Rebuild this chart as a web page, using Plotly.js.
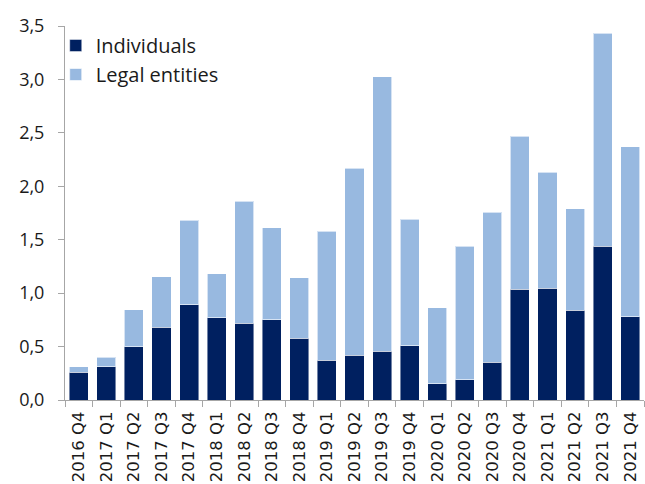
<!DOCTYPE html>
<html>
<head>
<meta charset="utf-8">
<script src="https://cdn.plot.ly/plotly-3.0.1.min.js"></script>
<style>html,body{margin:0;padding:0;background:#fff;}#chart{width:645px;height:484px;}</style>
</head>
<body>
<div id="chart"></div>
<script>
const quarters = ["2016 Q4","2017 Q1","2017 Q2","2017 Q3","2017 Q4","2018 Q1","2018 Q2","2018 Q3","2018 Q4","2019 Q1","2019 Q2","2019 Q3","2019 Q4","2020 Q1","2020 Q2","2020 Q3","2020 Q4","2021 Q1","2021 Q2","2021 Q3","2021 Q4"];
const individuals = [0.26,0.31,0.50,0.68,0.89,0.77,0.72,0.75,0.58,0.37,0.42,0.455,0.51,0.15,0.19,0.355,1.035,1.045,0.84,1.44,0.78];
const legalEntities = [0.05,0.09,0.345,0.475,0.79,0.41,1.14,0.86,0.565,1.21,1.75,2.57,1.18,0.714,1.25,1.40,1.435,1.085,0.95,1.99,1.59];

const traces = [
  {type:'bar', name:'Individuals', x:quarters, y:individuals,
   marker:{color:'#002060', line:{color:'rgba(255,255,255,0.45)', width:1}}},
  {type:'bar', name:'Legal entities', x:quarters, y:legalEntities,
   marker:{color:'#98B9E0', line:{color:'rgba(255,255,255,0.6)', width:1}}}
];

const layout = {
  width:645, height:484,
  margin:{l:65, r:1, t:26, b:84},
  barmode:'stack', bargap:0.31,
  separators:', ',
  paper_bgcolor:'#fff', plot_bgcolor:'#fff',
  showlegend:true,
  legend:{x:-0.016, y:1.0, xanchor:'left', yanchor:'top', bgcolor:'rgba(0,0,0,0)',
          font:{family:'Open Sans', size:20, color:'#1a1a1a'}, traceorder:'normal'},
  xaxis:{type:'category', showline:true, linecolor:'#A6A6A6', linewidth:1,
         ticks:'outside', tickson:'boundaries', ticklen:6, tickcolor:'#A6A6A6',
         tickangle:-90, showgrid:false, zeroline:false, ticklabelstandoff:4,
         tickfont:{family:'DejaVu Sans', size:16.5, color:'#1a1a1a'}},
  yaxis:{range:[0,3.5], dtick:0.5, tick0:0, tickformat:'.1f', showline:true,
         linecolor:'#A6A6A6', linewidth:1, ticks:'outside', ticklen:6, tickcolor:'#A6A6A6',
         showgrid:false, zeroline:false, ticklabelstandoff:10,
         tickfont:{family:'Open Sans', size:18, color:'#1a1a1a'}}
};

Plotly.newPlot('chart', traces, layout, {displayModeBar:false, staticPlot:true});
</script>
</body>
</html>
